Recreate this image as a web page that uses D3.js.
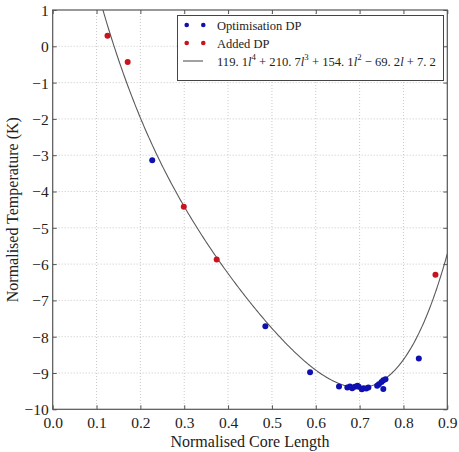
<!DOCTYPE html>
<html><head><meta charset="utf-8">
<script src="https://cdn.jsdelivr.net/npm/d3@7"></script>
</head><body style="margin:0;background:#fff">
<svg id="c" width="459" height="452" style="display:block;font-family:'Liberation Serif'"></svg>
<script>
const optX = [0.227,0.485,0.587,0.653,0.672,0.678,0.683,0.689,0.695,0.698,0.705,0.709,0.715,0.72,0.74,0.744,0.75,0.754,0.759,0.754,0.835];
const optY = [-3.14,-7.71,-8.98,-9.37,-9.40,-9.37,-9.42,-9.38,-9.35,-9.38,-9.45,-9.42,-9.43,-9.40,-9.35,-9.31,-9.25,-9.20,-9.17,-9.44,-8.60];
const addX = [0.125,0.171,0.299,0.374,0.873];
const addY = [0.29,-0.43,-4.42,-5.87,-6.29];
const fitCoef = [119.1,-210.7,154.1,-69.2,7.2]; // l^4 .. l^0
const xTicks = [0.0,0.1,0.2,0.3,0.4,0.5,0.6,0.7,0.8,0.9];
const yTicks = [1,0,-1,-2,-3,-4,-5,-6,-7,-8,-9,-10];
const seriesNames = ["Optimisation DP","Added DP"];

const FONT = "Liberation Serif";
const svg = d3.select("#c");
const L=52.7,R=447.3,T=10,B=409.3;
const x = d3.scaleLinear().domain([0,0.9]).range([L,R]);
const y = d3.scaleLinear().domain([-10,1]).range([B,T]);

const g = svg.append("g");
g.selectAll(".gx").data(xTicks.slice(1,-1)).enter().append("line")
 .attr("x1",d=>x(d)).attr("x2",d=>x(d)).attr("y1",T).attr("y2",B)
 .attr("stroke","#bbb").attr("stroke-width",0.8).attr("stroke-dasharray","1,2");
g.selectAll(".gy").data(yTicks.slice(1,-1)).enter().append("line")
 .attr("y1",d=>y(d)).attr("y2",d=>y(d)).attr("x1",L).attr("x2",R)
 .attr("stroke","#bbb").attr("stroke-width",0.8).attr("stroke-dasharray","1,2");

const xa = svg.append("g").attr("transform",`translate(0,${B})`)
 .call(d3.axisBottom(x).tickValues(xTicks).tickFormat(d3.format(".1f")).tickSizeInner(-4).tickSizeOuter(0).tickPadding(8));
const xa2 = svg.append("g").attr("transform",`translate(0,${T})`)
 .call(d3.axisTop(x).tickValues(xTicks).tickFormat("").tickSizeInner(-4).tickSizeOuter(0));
const ya = svg.append("g").attr("transform",`translate(${L},0)`)
 .call(d3.axisLeft(y).tickValues(yTicks).tickFormat(d=>d<0?"\u2212"+Math.abs(d):String(d)).tickSizeInner(-4).tickSizeOuter(0).tickPadding(4));
const ya2 = svg.append("g").attr("transform",`translate(${R},0)`)
 .call(d3.axisRight(y).tickValues(yTicks).tickFormat("").tickSizeInner(-4).tickSizeOuter(0));
[xa,xa2,ya,ya2].forEach(a=>{a.select(".domain").remove();a.attr("font-family",FONT).attr("font-size",15.5);
 a.selectAll("line").attr("stroke","#555");
 a.selectAll("text").attr("font-family",FONT).style("font-family",FONT).attr("font-size",15.5).attr("fill","#222");});
xa.selectAll("text").attr("dy","0.71em");
ya.selectAll("text").attr("dy","0.35em");

svg.append("clipPath").attr("id","clip").append("rect").attr("x",L).attr("y",T).attr("width",R-L).attr("height",B-T);

const poly = l => fitCoef.reduce((acc,c)=>acc*l+c,0);
const ls = d3.range(0,0.9001,0.0025);
svg.append("path").attr("clip-path","url(#clip)")
 .attr("d",d3.line().x(d=>x(d)).y(d=>y(poly(d)))(ls))
 .attr("fill","none").attr("stroke","#5a5a5a").attr("stroke-width",1.1);

svg.append("g").selectAll("circle").data(optX.map((v,i)=>[v,optY[i]])).enter().append("circle")
 .attr("cx",d=>x(d[0])).attr("cy",d=>y(d[1])).attr("r",3).attr("fill","#1010b0");
svg.append("g").selectAll("circle").data(addX.map((v,i)=>[v,addY[i]])).enter().append("circle")
 .attr("cx",d=>x(d[0])).attr("cy",d=>y(d[1])).attr("r",3).attr("fill","#c8141e");

svg.append("rect").attr("x",L).attr("y",T).attr("width",R-L).attr("height",B-T)
 .attr("fill","none").attr("stroke","#555").attr("stroke-width",1.2);

svg.append("text").attr("x",(L+R)/2).attr("y",447).attr("text-anchor","middle").attr("font-size",16).attr("fill","#222").attr("font-family",FONT).style("font-family",FONT).text("Normalised Core Length");
svg.append("text").attr("transform",`translate(18,${(T+B)/2}) rotate(-90)`).attr("text-anchor","middle").attr("font-size",16).attr("fill","#222").attr("font-family",FONT).style("font-family",FONT).text("Normalised Temperature (K)");

const lg = svg.append("g");
lg.append("rect").attr("x",177.5).attr("y",15.5).attr("width",266).attr("height",65).attr("fill","#fff").attr("stroke","#444").attr("stroke-width",1);
const rows=[25,43,61];
[["#1010b0",seriesNames[0]],["#c8141e",seriesNames[1]]].forEach((s,i)=>{
  [186.7,203.3].forEach(cx=>lg.append("circle").attr("cx",cx).attr("cy",rows[i]).attr("r",2.3).attr("fill",s[0]));
  lg.append("text").attr("x",217).attr("y",rows[i]+4.5).attr("font-size",12.5).attr("fill","#222").attr("font-family",FONT).style("font-family",FONT).text(s[1]);
});
lg.append("line").attr("x1",183).attr("x2",203).attr("y1",rows[2]).attr("y2",rows[2]).attr("stroke","#555").attr("stroke-width",1.1);
const t = lg.append("text").attr("x",217).attr("y",rows[2]+4.5).attr("font-size",12.6).attr("fill","#222").attr("font-family",FONT).style("font-family",FONT);
const parts = [["119. 1",0],["l",1],["4",2],[" + 210. 7",0],["l",1],["3",2],[" + 154. 1",0],["l",1],["2",2],[" \u2212 69. 2",0],["l",1],[" + 7. 2",0]];
let prevSup=false;
parts.forEach(p=>{
  const ts=t.append("tspan").text(p[0]).style("white-space","pre");
  if(p[1]===1) ts.attr("font-style","italic");
  if(p[1]===2){ts.attr("font-size",8.8).attr("dy",-5.5);prevSup=true;}
  else if(prevSup){ts.attr("dy",5.5);prevSup=false;}
});
</script>
</body></html>
